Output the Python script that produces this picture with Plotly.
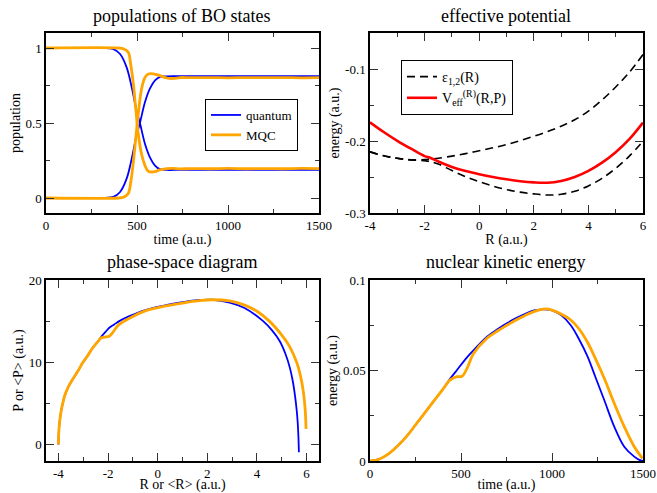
import plotly.graph_objects as go

# ---- populations of BO states ----
t_pop_q = [0, 300, 370, 407, 443, 471, 498, 516, 544, 571, 599, 626, 663, 700, 800, 1000, 1200, 1500]
pop1_q = [1.0, 0.999, 0.993, 0.96, 0.871, 0.738, 0.58, 0.50, 0.36, 0.271, 0.216, 0.192, 0.187, 0.187, 0.187, 0.187, 0.187, 0.187]
pop2_q = [0.0, 0.001, 0.007, 0.04, 0.129, 0.262, 0.42, 0.50, 0.64, 0.729, 0.784, 0.808, 0.811, 0.812, 0.812, 0.812, 0.812, 0.812]

t_pop_c = [0, 400, 425, 452, 465, 480, 494, 507, 525, 544, 562, 590, 626, 663, 700, 736, 800, 900, 1000, 1100, 1200, 1300, 1400, 1500]
pop1_c = [1.0, 1.0, 0.995, 0.971, 0.893, 0.76, 0.582, 0.427, 0.293, 0.216, 0.178, 0.174, 0.187, 0.196, 0.198, 0.194, 0.196, 0.195, 0.197, 0.195, 0.196, 0.195, 0.197, 0.196]
pop2_c = [0.0, 0.0, 0.005, 0.03, 0.10, 0.24, 0.41, 0.56, 0.727, 0.804, 0.827, 0.828, 0.816, 0.800, 0.797, 0.803, 0.802, 0.803, 0.801, 0.803, 0.802, 0.803, 0.801, 0.802]

# ---- effective potential ----
R_pot = [-4, -3.5, -3, -2.5, -2, -1.8, -1.5, -1, -0.5, 0, 0.5, 1, 1.5, 2, 2.5, 3, 3.5, 4, 4.5, 5, 5.5, 6]
eps1 = [-0.2151, -0.2205, -0.2240, -0.2262, -0.2275, -0.2285, -0.2320, -0.2410, -0.2495, -0.2565, -0.2625, -0.2675, -0.2710, -0.2735, -0.2750, -0.2740, -0.2698, -0.2624, -0.2518, -0.2380, -0.2210, -0.2004]
eps2 = [-0.2151, -0.2205, -0.2240, -0.2262, -0.2257, -0.2250, -0.2240, -0.2210, -0.2175, -0.2135, -0.2095, -0.2050, -0.1995, -0.1935, -0.1870, -0.1795, -0.1705, -0.1585, -0.1430, -0.1250, -0.1045, -0.0800]
veff = [-0.1740, -0.1875, -0.1997, -0.2107, -0.2210, -0.2232, -0.2285, -0.2360, -0.2418, -0.2462, -0.2500, -0.2532, -0.2558, -0.2575, -0.2580, -0.2555, -0.2500, -0.2415, -0.2300, -0.2155, -0.1975, -0.1745]

# ---- phase-space diagram ----
R_ps_q = [-4.0, -3.99, -3.96, -3.9, -3.84, -3.75, -3.6, -3.43, -3.2, -3.03, -2.8, -2.63, -2.4, -2.29, -2.1, -1.95, -1.75, -1.55, -1.14, -0.5, 0.34, 1.0, 1.6, 2.2, 2.9, 3.5, 4.25, 4.6, 4.92, 5.15, 5.33, 5.45, 5.53, 5.6, 5.64, 5.67, 5.69]
P_ps_q = [0.0, 1.2, 2.5, 3.9, 4.8, 5.9, 7.0, 7.9, 9.0, 9.9, 10.9, 11.7, 12.55, 13.05, 13.7, 14.2, 14.6, 15.0, 15.6, 16.35, 16.95, 17.3, 17.55, 17.6, 17.26, 16.6, 15.0, 13.9, 12.55, 11.0, 9.29, 7.6, 6.0, 4.2, 2.74, 1.0, -0.94]
R_ps_c = [-4.0, -3.99, -3.96, -3.9, -3.84, -3.75, -3.6, -3.43, -3.2, -3.03, -2.8, -2.63, -2.4, -2.29, -2.15, -1.95, -1.82, -1.7, -1.55, -1.14, -0.5, 0.34, 1.0, 1.6, 2.2, 2.9, 3.5, 4.0, 4.5, 5.0, 5.3, 5.6, 5.75, 5.87, 5.94, 5.98]
P_ps_c = [0.0, 1.2, 2.5, 3.9, 4.8, 5.9, 7.0, 7.9, 9.0, 9.9, 10.9, 11.7, 12.55, 12.95, 13.05, 13.17, 13.58, 14.1, 14.6, 15.35, 16.25, 16.85, 17.2, 17.45, 17.6, 17.45, 16.95, 16.2, 15.0, 13.3, 12.0, 10.0, 8.4, 6.4, 4.4, 1.9]

# ---- nuclear kinetic energy ----
t_ke_q = [0, 50, 100, 150, 200, 250, 300, 350, 400, 441, 478, 533, 570, 643, 700, 754, 800, 850, 901, 947, 980, 1000, 1050, 1103, 1150, 1195, 1240, 1287, 1342, 1397, 1452, 1480, 1500]
ke_q = [0, 0.001, 0.0038, 0.0082, 0.0135, 0.0199, 0.0265, 0.0331, 0.0396, 0.0455, 0.0503, 0.0573, 0.0613, 0.0687, 0.0728, 0.0762, 0.0788, 0.0812, 0.0832, 0.0838, 0.0837, 0.0832, 0.0806, 0.0750, 0.0670, 0.0578, 0.0460, 0.0337, 0.0190, 0.0079, 0.0024, 0.0006, 0.0]
t_ke_c = [0, 50, 100, 150, 200, 250, 300, 350, 400, 441, 478, 506, 533, 570, 643, 700, 754, 800, 850, 901, 965, 1000, 1050, 1103, 1150, 1195, 1240, 1287, 1342, 1397, 1452, 1497]
ke_c = [0, 0.001, 0.0038, 0.0082, 0.0135, 0.0199, 0.0265, 0.0331, 0.0396, 0.0448, 0.0466, 0.0468, 0.0512, 0.0595, 0.0678, 0.0718, 0.0751, 0.0778, 0.0803, 0.0825, 0.0840, 0.0834, 0.0812, 0.0779, 0.0728, 0.0656, 0.0563, 0.0457, 0.0319, 0.0190, 0.0079, 0.0015]

BLUE = "#0000ff"
ORANGE = "#ffa500"
FONT = "Liberation Serif, Times New Roman, serif"

# full-window figure; the page's body margin is removed after plotting
W, H = 657, 493


def px(x):
    return x / W


def py(y):
    return 1 - y / H


fig = go.Figure()

# panel 1
fig.add_trace(go.Scatter(x=t_pop_q, y=pop1_q, mode="lines", line=dict(color=BLUE, width=1.8, shape="spline"),
                         name="quantum", legend="legend", xaxis="x", yaxis="y"))
fig.add_trace(go.Scatter(x=t_pop_q, y=pop2_q, mode="lines", line=dict(color=BLUE, width=1.8, shape="spline"),
                         showlegend=False, xaxis="x", yaxis="y"))
fig.add_trace(go.Scatter(x=t_pop_c, y=pop1_c, mode="lines", line=dict(color=ORANGE, width=2.8, shape="spline"),
                         name="MQC", legend="legend", xaxis="x", yaxis="y"))
fig.add_trace(go.Scatter(x=t_pop_c, y=pop2_c, mode="lines", line=dict(color=ORANGE, width=2.8, shape="spline"),
                         showlegend=False, xaxis="x", yaxis="y"))

# panel 2
fig.add_trace(go.Scatter(x=R_pot, y=eps1, mode="lines", line=dict(color="black", width=1.6, dash="8px,5px", shape="spline"),
                         name="ε<sub>1,2</sub>(R)", legend="legend2", xaxis="x2", yaxis="y2"))
fig.add_trace(go.Scatter(x=R_pot, y=eps2, mode="lines", line=dict(color="black", width=1.6, dash="8px,5px", shape="spline"),
                         showlegend=False, xaxis="x2", yaxis="y2"))
fig.add_trace(go.Scatter(x=R_pot, y=veff, mode="lines", line=dict(color="#ff0000", width=2.6, shape="spline"),
                         name="V<sub>eff</sub><sup>(R)</sup>(R,P)", legend="legend2", xaxis="x2", yaxis="y2"))

# panel 3
fig.add_trace(go.Scatter(x=R_ps_q, y=P_ps_q, mode="lines", line=dict(color=BLUE, width=1.8, shape="spline"),
                         showlegend=False, xaxis="x3", yaxis="y3"))
fig.add_trace(go.Scatter(x=R_ps_c, y=P_ps_c, mode="lines", line=dict(color=ORANGE, width=2.8, shape="spline"),
                         showlegend=False, xaxis="x3", yaxis="y3"))

# panel 4
fig.add_trace(go.Scatter(x=t_ke_q, y=ke_q, mode="lines", line=dict(color=BLUE, width=1.8, shape="spline"),
                         showlegend=False, xaxis="x4", yaxis="y4"))
fig.add_trace(go.Scatter(x=t_ke_c, y=ke_c, mode="lines", line=dict(color=ORANGE, width=2.8, shape="spline"),
                         showlegend=False, xaxis="x4", yaxis="y4"))


def ax(domain, rng, dtick, minor, title, anchor, tickvals=None, ticktext=None, standoff=2):
    d = dict(domain=domain, range=rng, showline=True, mirror="allticks", linecolor="black", linewidth=1.5,
             ticks="inside", ticklen=8, tickwidth=1.3, tickcolor="#333", ticklabeloverflow="allow",
             minor=dict(ticks="inside", ticklen=4, tickwidth=1.2, tickcolor="#333", dtick=minor),
             showgrid=False, zeroline=False, automargin=False, anchor=anchor,
             tickfont=dict(family=FONT, size=13, color="black"),
             title=dict(text=title, font=dict(family=FONT, size=14, color="black"), standoff=standoff))
    if tickvals is not None:
        d.update(tickmode="array", tickvals=tickvals, ticktext=ticktext)
        d["minor"]["tick0"] = tickvals[0]
    else:
        d.update(dtick=dtick, tick0=0)
    return d


xL = [px(46), px(319)]
xR = [px(370), px(643)]
yT = [py(213), py(33)]
yB = [py(461), py(280)]

fig.update_layout(
    width=W, height=H,
    margin=dict(l=0, r=0, t=0, b=0),
    paper_bgcolor="white", plot_bgcolor="white",
    template="none",
    font=dict(family=FONT, size=14, color="black"),
    xaxis=ax(xL, [0, 1500], 500, 250, "time (a.u.)", "y"),
    yaxis=ax(yT, [-0.1, 1.1], 0.5, 0.25, "population", "x"),
    xaxis2=ax(xR, [-4, 6], 2, 1, "R (a.u.)", "y2",
              tickvals=[-4, -2, 0, 2, 4, 6], ticktext=["-4", "-2", "0", "2", "4", "6"]),
    yaxis2=ax(yT, [-0.3, -0.05], 0.1, 0.05, "energy (a.u.)", "x2",
              tickvals=[-0.3, -0.2, -0.1], ticktext=["-0.3", "-0.2", "-0.1"]),
    xaxis3=ax(xL, [-4.5, 6.5], 2, 1, "R or &lt;R&gt; (a.u.)", "y3",
              tickvals=[-4, -2, 0, 2, 4, 6], ticktext=["-4", "-2", "0", "2", "4", "6"], standoff=4),
    yaxis3=ax(yB, [-2, 20], 10, 5, "P or &lt;P&gt; (a.u.)", "x3"),
    xaxis4=ax(xR, [0, 1500], 500, 250, "time (a.u.)", "y4", standoff=4),
    yaxis4=ax(yB, [0, 0.1], 0.05, 0.025, "energy (a.u.)", "x4"),
    legend=dict(x=px(205), y=py(99), xanchor="left", yanchor="top", bgcolor="white",
                bordercolor="black", borderwidth=1, font=dict(family=FONT, size=13, color="black"),
                itemwidth=30, tracegroupgap=0),
    legend2=dict(x=px(401), y=py(60), xanchor="left", yanchor="top", bgcolor="white",
                 bordercolor="black", borderwidth=1, font=dict(family=FONT, size=14, color="black"),
                 itemwidth=30, tracegroupgap=0),
)

titles = [("populations of BO states", 182, 16), ("effective potential", 506, 16),
          ("phase-space diagram", 182, 262), ("nuclear kinetic energy", 506, 262)]
for txt, cx, cy in titles:
    fig.add_annotation(text=txt, x=px(cx), y=py(cy), xref="paper", yref="paper",
                       showarrow=False, xanchor="center", yanchor="middle", borderpad=0,
                       font=dict(family=FONT, size=18, color="black"))

fig.write_html("out.html", config={"displayModeBar": False},
               post_script="document.body.style.margin='0';document.body.style.overflow='hidden';")
